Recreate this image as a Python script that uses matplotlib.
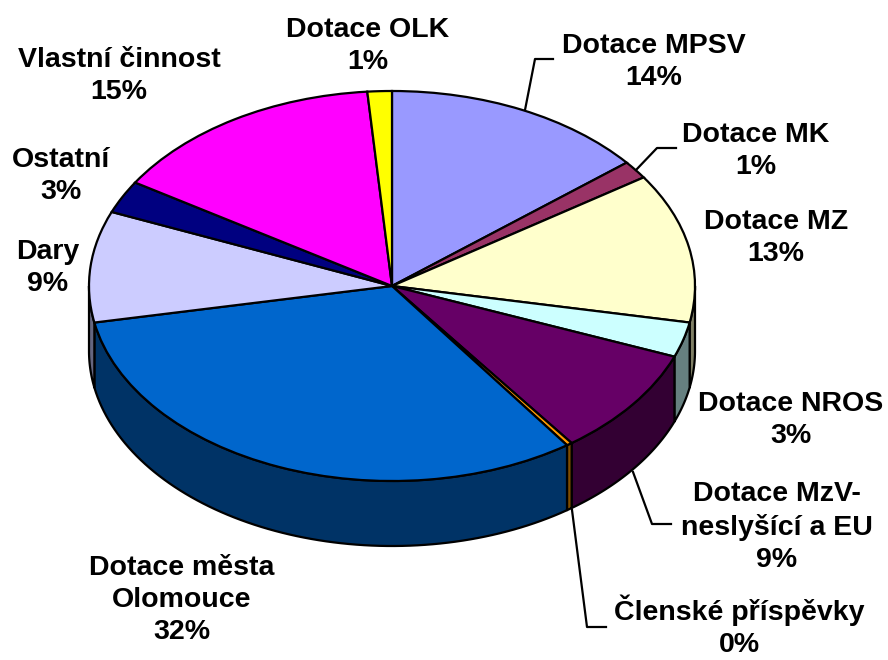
import numpy as np
import matplotlib
matplotlib.use("Agg")
import matplotlib.pyplot as plt
from matplotlib.patches import Polygon

plt.rcParams['font.family'] = ['Liberation Sans', 'DejaVu Sans']

categories = ["Dotace MPSV", "Dotace MK", "Dotace MZ", "Dotace NROS",
              "Dotace MzV-\nneslyšící a EU", "Členské příspěvky",
              "Dotace města\nOlomouce", "Dary", "Ostatní",
              "Vlastní činnost", "Dotace OLK"]
shares = [14.1, 1.5, 12.4, 2.9, 9.0, 0.3, 31.8, 9.2, 2.7, 14.8, 1.3]
percent_labels = ["14%", "1%", "13%", "3%", "9%", "0%", "32%", "9%", "3%", "15%", "1%"]
top_colors = ["#9999FF", "#993366", "#FFFFCC", "#CCFFFF", "#660066", "#FF9900",
              "#0066CC", "#CCCCFF", "#000080", "#FF00FF", "#FFFF00"]

W, H = 888, 660
CX, CY, RX, RY, DEPTH = 392, 286, 303, 195, 65
FS = 20.5
LW = 1.6

fig = plt.figure(figsize=(W / 100, H / 100), dpi=100, facecolor="white")
ax = fig.add_axes([0, 0, 1, 1])
wedges, _ = ax.pie(shares, colors=top_colors, startangle=90, counterclock=False,
                   wedgeprops=dict(edgecolor="black", linewidth=LW, zorder=5))
ax.set_aspect("auto")
ax.set_xlim(-CX / RX, (W - CX) / RX)
ax.set_ylim(-(H - CY) / RY, CY / RY)
d = DEPTH / RY


def darken(hexcolor, f=0.5):
    r, g, b = matplotlib.colors.to_rgb(hexcolor)
    return (r * f, g * f, b * f)


# side walls: the part of every wedge's rim that faces the viewer
for w, c in zip(wedges, top_colors):
    t1, t2 = sorted((w.theta1, w.theta2))
    for lo, hi in ((-180, 0), (180, 360), (540, 720)):
        a, b = max(t1, lo), min(t2, hi)
        if b <= a:
            continue
        th = np.radians(np.linspace(a, b, 80))
        x, y = np.cos(th), np.sin(th)
        pts = np.r_[np.c_[x, y], np.c_[x[::-1], y[::-1] - d]]
        ax.add_patch(Polygon(pts, closed=True, facecolor=darken(c),
                             edgecolor="black", linewidth=LW, zorder=3,
                             joinstyle="round"))


def P(px, py):
    return px / W, 1 - py / H


# label centres in pixels
label_pos = [(654, 62), (756, 151), (776, 238), (791, 420), (777, 527),
             (739, 626), (182, 600), (48, 268), (61, 176), (119, 76), (368, 46)]
for cat, pct, (px, py) in zip(categories, percent_labels, label_pos):
    fx, fy = P(px, py)
    fig.text(fx, fy, f"{cat}\n{pct}", ha="center", va="center", fontsize=FS,
             fontweight="bold", linespacing=1.3, color="black", zorder=10)

leaders = [[(525, 110), (535, 59), (553, 59)],
           [(636, 170), (657, 148), (676, 148)],
           [(633, 472), (652, 524), (671, 524)],
           [(572, 510), (587, 627), (606, 627)]]
for seg in leaders:
    xs, ys = zip(*[P(*p) for p in seg])
    fig.add_artist(plt.Line2D(xs, ys, color="black", linewidth=LW, transform=fig.transFigure))

fig.savefig("out.png", dpi=100, facecolor="white")
